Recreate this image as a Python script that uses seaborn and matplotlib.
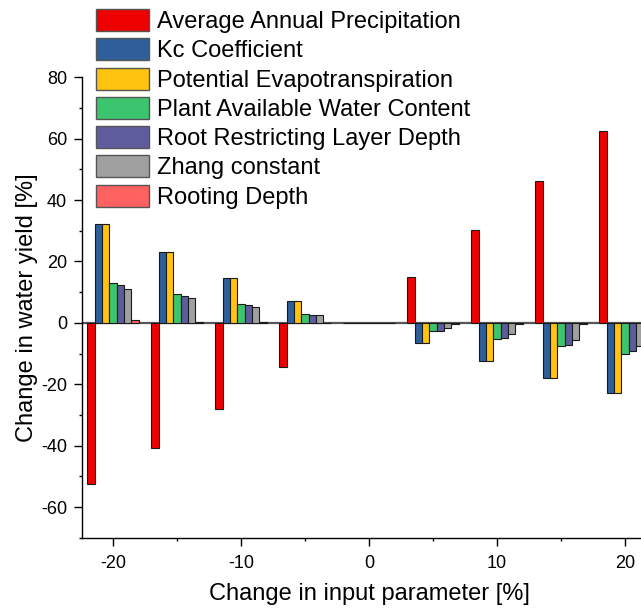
import matplotlib
matplotlib.use("Agg")
import matplotlib.pyplot as plt
import pandas as pd
import seaborn as sns

changes = [-20, -15, -10, -5, 0, 5, 10, 15, 20]

precipitation = [-52.4, -40.7, -28.0, -14.3, 0.0, 14.8, 30.3, 46.3, 62.5]
kc_coefficient = [32.2, 23.1, 14.7, 7.1, 0.0, -6.5, -12.5, -18.1, -23.0]
evapotranspiration = [32.2, 23.1, 14.7, 7.1, 0.0, -6.5, -12.5, -18.1, -23.0]
water_content = [13.0, 9.4, 6.1, 2.8, 0.0, -2.7, -5.3, -7.5, -10.0]
layer_depth = [12.2, 8.8, 5.7, 2.7, 0.0, -2.6, -5.0, -7.1, -9.3]
zhang_constant = [11.1, 8.0, 5.1, 2.5, 0.0, -1.6, -3.7, -5.5, -7.5]
rooting_depth = [0.9, 0.3, 0.2, 0.1, 0.0, -0.3, -0.5, -0.5, -0.7]

parameters = ["Average Annual Precipitation", "Kc Coefficient", "Potential Evapotranspiration",
              "Plant Available Water Content", "Root Restricting Layer Depth", "Zhang constant",
              "Rooting Depth"]
colors = ["#EE0000", "#2F5F98", "#FFC20E", "#3CC46E", "#5E5C9C", "#A0A0A0", "#FF6060"]


def build_frame():
    series = [precipitation, kc_coefficient, evapotranspiration, water_content,
              layer_depth, zhang_constant, rooting_depth]
    rows = []
    for name, values in zip(parameters, series):
        for change, value in zip(changes, values):
            rows.append((change, name, value))
    return pd.DataFrame(rows, columns=["Change", "Parameter", "Yield"])


def main():
    df = build_frame()

    sns.set_style("ticks")
    plt.rcParams["font.family"] = ["Liberation Sans", "DejaVu Sans"]
    plt.rcParams["axes.unicode_minus"] = False
    plt.rcParams["text.color"] = "black"
    plt.rcParams["axes.labelcolor"] = "black"
    plt.rcParams["xtick.color"] = "black"
    plt.rcParams["ytick.color"] = "black"

    fig = plt.figure(figsize=(6.41, 6.10), dpi=100)
    ax = fig.add_axes([0.1275, 0.1185, 0.8964, 0.7548])

    ax.axhline(0, color="#555555", lw=1.6, zorder=0.5)
    sns.barplot(data=df, x="Change", y="Yield", hue="Parameter", hue_order=parameters,
                palette=colors, saturation=1, native_scale=True, errorbar=None, ax=ax,
                edgecolor="#1a1a1a", linewidth=0.8, zorder=2)

    ax.set_xlim(-22.45, 22.45)
    ax.set_ylim(-70, 80)
    ax.set_xticks([-20, -10, 0, 10, 20])
    ax.set_xticks([-15, -5, 5, 15], minor=True)
    ax.set_yticks(range(-60, 81, 20))
    ax.set_yticks(range(-70, 81, 10), minor=True)
    ax.tick_params(which="major", length=5.5, width=1, labelsize=13, color="black", labelcolor="black")
    ax.tick_params(which="minor", length=2.5, width=1, color="black")
    ax.tick_params(axis="x", which="major", pad=7)
    ax.tick_params(axis="y", which="major", pad=5)
    sns.despine(ax=ax)
    for side in ["left", "bottom"]:
        ax.spines[side].set_linewidth(1.0)
        ax.spines[side].set_color("black")

    ax.set_xlabel("Change in input parameter [%]", fontsize=17, color="black")
    ax.set_ylabel("Change in water yield [%]", fontsize=17, color="black")
    ax.xaxis.set_label_coords(0.5, -0.0975)
    ax.yaxis.set_label_coords(-0.076, 0.5)

    handles, labels = ax.get_legend_handles_labels()
    ax.get_legend().remove()
    for h in handles:
        h.set_edgecolor("#555555")
        h.set_linewidth(1.0)
    fig.legend(handles, labels, loc="upper left", bbox_to_anchor=(96 / 641, 1 - 9 / 610),
               frameon=False, fontsize=17, borderpad=0, borderaxespad=0,
               handlelength=2.25, handleheight=1.06, handletextpad=0.34, labelspacing=0.22)

    fig.savefig("out.png", dpi=100)


if __name__ == "__main__":
    main()
